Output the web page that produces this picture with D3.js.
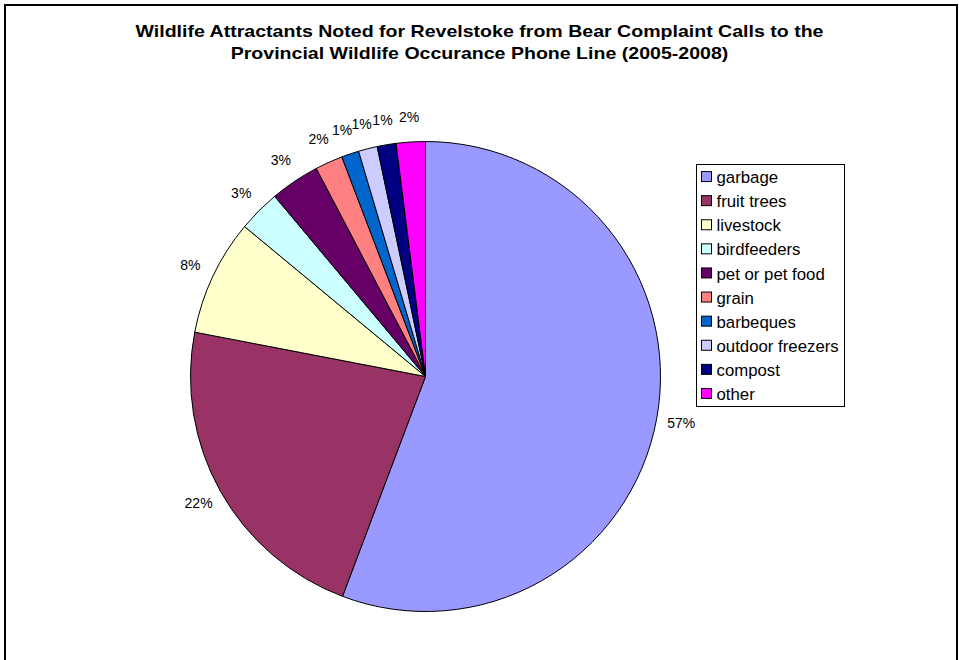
<!DOCTYPE html>
<html>
<head>
<meta charset="utf-8">
<script src="https://cdn.jsdelivr.net/npm/d3@7"></script>
<style>
  html, body { margin: 0; padding: 0; background: #fff; }
  svg { display: block; font-family: "Liberation Sans", Arial, sans-serif; }
</style>
</head>
<body>
<svg id="chart" width="959" height="660"></svg>
<script>
const categories = ["garbage", "fruit trees", "livestock", "birdfeeders", "pet or pet food",
                    "grain", "barbeques", "outdoor freezers", "compost", "other"];
const values = [55.8, 22.3, 8.0, 2.9, 3.4, 1.9, 1.2, 1.3, 1.3, 2.0];
const pctLabels = ["57%", "22%", "8%", "3%", "3%", "2%", "1%", "1%", "1%", "2%"];
const colors = ["#9999FF", "#993366", "#FFFFCC", "#CCFFFF", "#660066",
                "#FF8080", "#0066CC", "#CCCCFF", "#000080", "#FF00FF"];
const titleLines = ["Wildlife Attractants Noted for Revelstoke from Bear Complaint Calls to the",
                    "Provincial Wildlife Occurance Phone Line (2005-2008)"];

const svg = d3.select("#chart");
const W = 959, H = 660;

// frame
svg.append("path")
  .attr("d", `M5,${H + 5} L5,5 L957,5 L957,${H + 5}`)
  .attr("fill", "none").attr("stroke", "#000").attr("stroke-width", 2);

// title
svg.append("g").selectAll("text").data(titleLines).join("text")
  .attr("x", 479.5).attr("y", (d, i) => 37 + i * 22)
  .attr("text-anchor", "middle")
  .attr("font-weight", "bold").attr("font-size", 16.3)
  .attr("transform", "translate(479.5,0) scale(1.2,1) translate(-479.5,0)")
  .text(d => d);

const cx = 425.5, cy = 376.5, R = 235;
const data = categories.map((c, i) => ({ cat: c, value: values[i], label: pctLabels[i], color: colors[i] }));
const pie = d3.pie().value(d => d.value).sort(null);
const arcs = pie(data);
const arc = d3.arc().innerRadius(0).outerRadius(R);

const g = svg.append("g").attr("transform", `translate(${cx},${cy})`);
g.selectAll("path").data(arcs).join("path")
  .attr("d", arc)
  .attr("fill", d => d.data.color)
  .attr("stroke", "#000").attr("stroke-width", 1).attr("stroke-linejoin", "round");

const labelArc = d3.arc().innerRadius(R + 25).outerRadius(R + 25);
g.selectAll("text").data(arcs).join("text")
  .attr("transform", d => `translate(${labelArc.centroid(d)})`)
  .attr("text-anchor", "middle").attr("dy", "0.35em")
  .attr("font-size", 14)
  .text(d => d.data.label);

// legend
const lg = svg.append("g");
lg.append("rect").attr("x", 696.5).attr("y", 164.5).attr("width", 148).attr("height", 242)
  .attr("fill", "#fff").attr("stroke", "#000").attr("stroke-width", 1);
const rowY = d3.scaleBand().domain(categories).range([165, 406]).paddingInner(0).paddingOuter(0.0);
const item = lg.selectAll("g.item").data(data).join("g").attr("class", "item")
  .attr("transform", d => `translate(0,${rowY(d.cat) + rowY.bandwidth() / 2})`);
item.append("rect").attr("x", 701.5).attr("y", -5.5).attr("width", 10).attr("height", 10)
  .attr("fill", d => d.color).attr("stroke", "#000").attr("stroke-width", 1);
item.append("text").attr("x", 716.5).attr("dy", "0.36em").attr("font-size", 16.8)
  .text(d => d.cat);
</script>
</body>
</html>
